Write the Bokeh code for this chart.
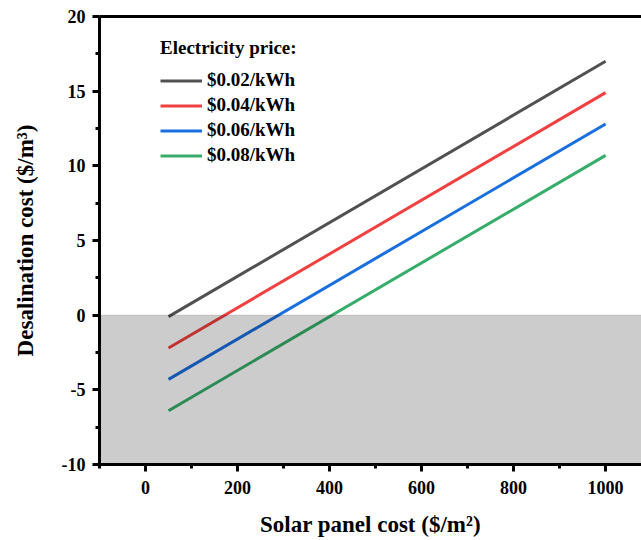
from bokeh.plotting import figure
from bokeh.models import (Range1d, FixedTicker, LinearAxis, BoxAnnotation,
                          Legend, LegendItem)
from bokeh.embed import file_html
from bokeh.resources import INLINE

# Desalination cost vs. solar panel cost, one line per electricity price
panel_cost = [50, 1000]
price_labels = ["$0.02/kWh", "$0.04/kWh", "$0.06/kWh", "$0.08/kWh"]
cost_002 = [-0.1, 17.0]
cost_004 = [-2.2, 14.9]
cost_006 = [-4.3, 12.8]
cost_008 = [-6.4, 10.7]
series = [cost_002, cost_004, cost_006, cost_008]
colors = ["#515151", "#F14040", "#1A6FDF", "#37AD6B"]

x_ticks = [0, 200, 400, 600, 800, 1000]
x_minor = [-100, 100, 300, 500, 700, 900, 1100]
y_ticks = [-10, -5, 0, 5, 10, 15, 20]
y_minor = [-7.5, -2.5, 2.5, 7.5, 12.5, 17.5]

FONT = "Liberation Serif"

p = figure(width=641, height=540,
           x_range=Range1d(-100, 1078), y_range=Range1d(-10, 20),
           output_backend="svg", toolbar_location=None,
           x_axis_location=None, y_axis_location=None,
           min_border_left=99, min_border_right=0,
           min_border_top=16, min_border_bottom=76)
p.outline_line_color = None
p.grid.visible = False
p.background_fill_color = "white"
p.border_fill_color = "white"


def style_axis(ax):
    ax.axis_line_width = 3
    ax.axis_line_color = "black"
    ax.major_tick_line_width = 3
    ax.minor_tick_line_width = 3
    ax.major_tick_in = 0
    ax.major_tick_out = 7
    ax.minor_tick_in = 0
    ax.minor_tick_out = 4
    ax.major_label_text_font = FONT
    ax.major_label_text_font_style = "bold"
    ax.major_label_text_font_size = "18px"
    ax.major_label_text_color = "black"
    ax.axis_label_text_font = FONT
    ax.axis_label_text_font_style = "bold"
    ax.axis_label_text_font_size = "23px"
    ax.axis_label_text_color = "black"


xaxis = LinearAxis(ticker=FixedTicker(ticks=x_ticks, minor_ticks=x_minor),
                   axis_label="Solar panel cost ($/m²)")
style_axis(xaxis)
xaxis.major_label_standoff = 9
xaxis.axis_label_standoff = 15
p.add_layout(xaxis, "below")

yaxis = LinearAxis(ticker=FixedTicker(ticks=y_ticks, minor_ticks=y_minor),
                   axis_label="Desalination cost ($/m³)")
style_axis(yaxis)
yaxis.major_label_standoff = 7
yaxis.axis_label_standoff = 21
yaxis.major_label_overrides = {t: str(t) for t in y_ticks}
p.add_layout(yaxis, "left")

# plain line along the top of the frame
top = LinearAxis(ticker=FixedTicker(ticks=[]))
top.axis_line_width = 3
top.major_tick_line_color = None
top.minor_tick_line_color = None
top.major_label_text_font_size = "0px"
p.add_layout(top, "above")

items = []
for ys, col, lbl in zip(series, colors, price_labels):
    r = p.line(panel_cost, ys, line_color=col, line_width=3)
    items.append(LegendItem(label=lbl, renderers=[r]))

# negative-cost region
p.add_layout(BoxAnnotation(top=0, fill_color="black", fill_alpha=0.2,
                           line_color="black", line_alpha=0.15, line_width=1,
                           level="overlay"))

legend = Legend(items=items, location=(61, 298), title="Electricity price:")
legend.title_text_font = FONT
legend.title_text_font_style = "bold"
legend.title_text_font_size = "19px"
legend.title_text_color = "black"
legend.title_standoff = 10
legend.label_text_font = FONT
legend.label_text_font_style = "bold"
legend.label_text_font_size = "19px"
legend.label_text_color = "black"
legend.glyph_width = 42
legend.glyph_height = 19
legend.label_height = 19
legend.label_standoff = 5
legend.spacing = 3
legend.padding = 0
legend.margin = 0
legend.border_line_color = None
legend.background_fill_alpha = 0
p.add_layout(legend, "center")

open("out.html", "w").write(file_html(p, INLINE))
